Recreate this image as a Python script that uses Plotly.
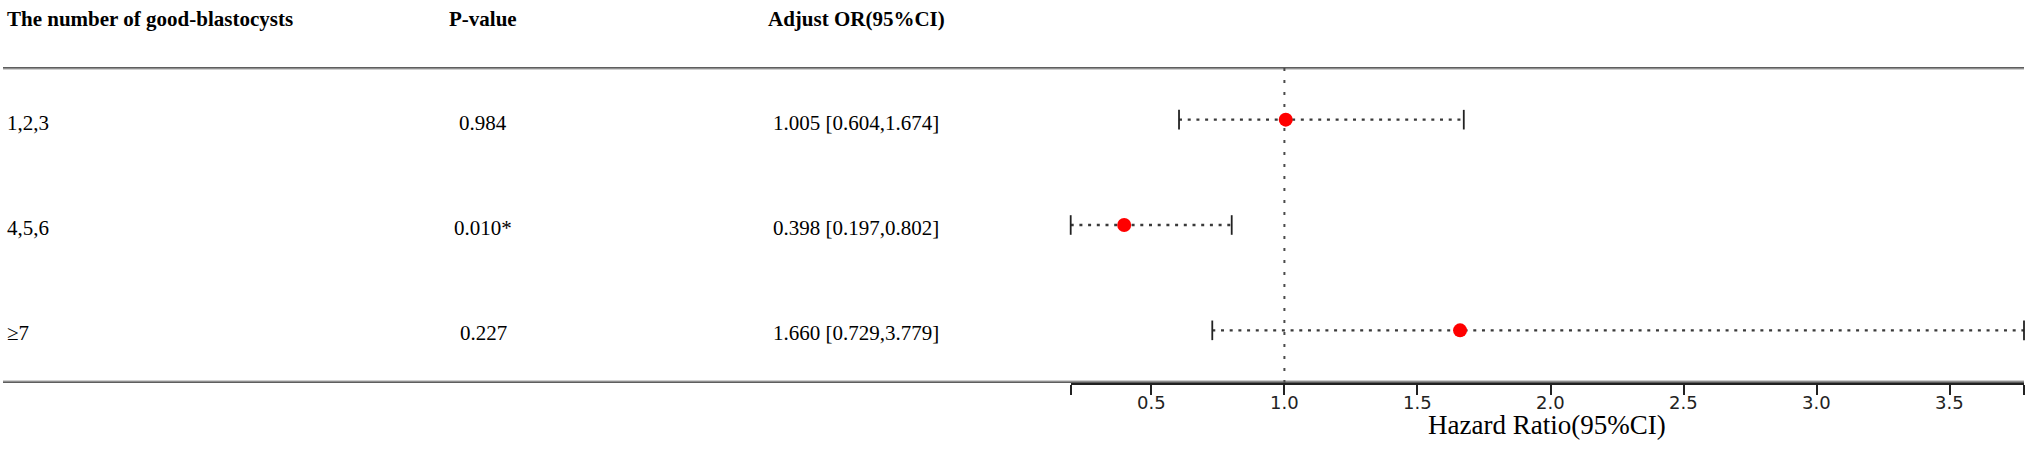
import plotly.graph_objects as go

# ---- data ----
groups = ["1,2,3", "4,5,6", "≥7"]
p_values = ["0.984", "0.010*", "0.227"]
or_est = [1.005, 0.398, 1.660]
or_low = [0.604, 0.197, 0.729]
or_high = [1.674, 0.802, 3.779]
headers = ["The number of good-blastocysts", "P-value", "Adjust OR(95%CI)"]
tick_vals = [0.5, 1.0, 1.5, 2.0, 2.5, 3.0, 3.5]
ref_value = 1.0
x_title = "Hazard Ratio(95%CI)"

W, H = 2034, 451
ML, MR, MT, MB = 0, 10, 67, 68
PW = W - ML - MR
PH = H - MT - MB
AX0 = 1070.7  # left pixel of forest axis


def py(px):
    """pixel row (from top) -> paper y"""
    return (H - MB - px) / PH


n = len(groups)
ypos = list(range(n, 0, -1))  # 3,2,1
labels_or = [f"{e:.3f} [{l:.3f},{h:.3f}]" for e, l, h in zip(or_est, or_low, or_high)]

xmin = min(or_low)
xmax = max(or_high)

fig = go.Figure()

# CI dotted lines
cx, cy = [], []
for lo, hi, y in zip(or_low, or_high, ypos):
    cx += [lo, hi, None]
    cy += [y, y, None]
fig.add_trace(go.Scatter(x=cx, y=cy, mode="lines",
                         line=dict(color="#3a3a3a", width=2.4, dash="3px,5.7px"),
                         hoverinfo="skip", showlegend=False, cliponaxis=False))
# caps
capx, capy = [], []
for lo, hi, y in zip(or_low, or_high, ypos):
    capx += [lo, hi]
    capy += [y, y]
fig.add_trace(go.Scatter(x=capx, y=capy, mode="markers",
                         marker=dict(symbol="line-ns", size=14, color="#222222",
                                     line=dict(color="#222222", width=1.8)),
                         hoverinfo="skip", showlegend=False, cliponaxis=False))
# points
fig.add_trace(go.Scatter(x=or_est, y=ypos, mode="markers",
                         marker=dict(symbol="circle", size=14, color="#ff0000"),
                         showlegend=False, cliponaxis=False))

# horizontal rules
for yv in [0.5, n + 0.5]:
    fig.add_shape(type="line", xref="paper", yref="y", x0=3 / PW, x1=1.0,
                  y0=yv, y1=yv, line=dict(color="#a0a0a0", width=5), layer="below")
    fig.add_shape(type="line", xref="paper", yref="y", x0=3 / PW, x1=1.0,
                  y0=yv, y1=yv, line=dict(color="#5e5e5e", width=2.5), layer="below")
# reference line
fig.add_shape(type="line", xref="x", yref="y", x0=ref_value, x1=ref_value,
              y0=0.5, y1=n + 0.5, line=dict(color="#4a4a4a", width=2, dash="3px,9px"),
              layer="below")

serif = "Liberation Serif, Times New Roman, serif"
col_x = [5, 483, 856]
col_anchor = ["left", "center", "center"]

for txt, cxp, anc in zip(headers, col_x, col_anchor):
    fig.add_annotation(text=f"<b>{txt}</b>", x=cxp / PW, xref="paper", y=py(19),
                       yref="paper", xanchor=anc, yanchor="middle", showarrow=False,
                       font=dict(family=serif, size=21, color="black"))

for i, y in enumerate(ypos):
    for txt, cxp, anc in zip([groups[i], p_values[i], labels_or[i]], col_x, col_anchor):
        fig.add_annotation(text=txt, x=cxp / PW, xref="paper", y=y, yref="y",
                           xanchor=anc, yanchor="middle", showarrow=False, yshift=-3,
                           font=dict(family=serif, size=21, color="black"))

# tick labels
for v in tick_vals:
    fig.add_annotation(text=f"{v:.1f}", x=v, xref="x", y=py(403), yref="paper",
                       xanchor="center", yanchor="middle", showarrow=False,
                       font=dict(family="DejaVu Sans", size=18, color="#222222"))

fig.add_annotation(text=x_title, x=0.5 * (AX0 / PW + 1), xref="paper",
                   y=py(425), yref="paper",
                   xanchor="center", yanchor="middle", showarrow=False,
                   font=dict(family=serif, size=27, color="black"))

tv = [xmin] + tick_vals + [xmax]

fig.update_layout(
    width=W, height=H,
    margin=dict(l=ML, r=MR, t=MT, b=MB),
    paper_bgcolor="white", plot_bgcolor="white",
    xaxis=dict(domain=[AX0 / PW, 1.0], range=[xmin, xmax], showgrid=False, zeroline=False,
               showline=True, linecolor="#222222", linewidth=1.6,
               ticks="outside", ticklen=10, tickwidth=1.8, tickcolor="#222222",
               tickvals=tv, showticklabels=False),
    yaxis=dict(range=[0.5, n + 0.5], visible=False, showgrid=False, zeroline=False),
)

fig.write_html("out.html", config={"displayModeBar": False},
               post_script="document.body.style.margin='0px';")
